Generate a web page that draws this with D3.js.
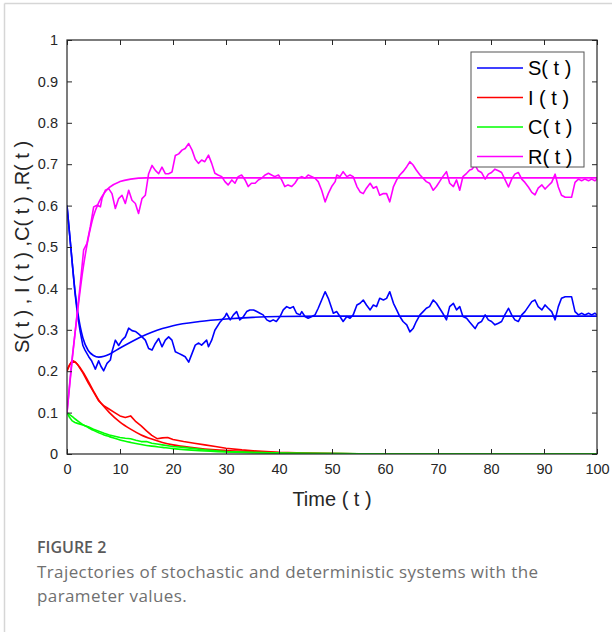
<!DOCTYPE html>
<html>
<head>
<meta charset="utf-8">
<script src="https://cdn.jsdelivr.net/npm/d3@7"></script>
<style>
  body { margin: 0; background: #fff; }
  svg { display: block; }
</style>
</head>
<body>
<svg id="svg" width="612" height="632"></svg>
<script>
// deterministic trajectories, [t, value]
var detS = [[0,0.6],[0.5,0.53],[1,0.46],[1.5,0.395],[2,0.345],[3,0.28],[4,0.25],[5,0.238],[6,0.234],[7,0.236],[8,0.241],[10,0.256],[12,0.27],[14,0.283],[16,0.294],[18,0.303],[20,0.31],[25,0.32],[30,0.326],[35,0.33],[40,0.332],[50,0.333],[60,0.333],[100,0.333]];
var detI = [[0,0.203],[0.5,0.216],[1,0.222],[1.5,0.222],[2,0.216],[3,0.198],[4,0.176],[5,0.152],[6,0.13],[7,0.114],[8,0.1],[10,0.077],[12,0.06],[14,0.046],[16,0.036],[18,0.028],[20,0.022],[24,0.015],[28,0.01],[32,0.007],[36,0.005],[40,0.003],[50,0.001],[60,0],[100,0]];
var detC = [[0,0.1],[1,0.09],[2,0.08],[3,0.071],[4,0.064],[5,0.057],[6,0.051],[7,0.046],[8,0.042],[10,0.034],[12,0.028],[14,0.023],[16,0.019],[18,0.016],[20,0.013],[25,0.008],[30,0.005],[35,0.003],[40,0.002],[50,0.001],[60,0],[100,0]];
var detR = [[0,0.1],[0.5,0.165],[1,0.23],[1.5,0.29],[2,0.345],[3,0.445],[4,0.52],[5,0.575],[6,0.608],[7,0.63],[8,0.644],[10,0.658],[12,0.664],[15,0.667],[20,0.667],[100,0.667]];

// stochastic trajectories, [t, value]
var stoS = [[0,0.6],[0.5,0.53],[1,0.46],[1.5,0.39],[2,0.335],[2.5,0.295],[3,0.262],[3.4,0.251],[4.1,0.235],[4.6,0.226],[5,0.215],[5.35,0.205],[5.97,0.225],[6.4,0.212],[6.92,0.201],[7.55,0.219],[8.18,0.227],[8.49,0.247],[9.12,0.275],[9.75,0.262],[10.38,0.275],[11,0.283],[11.64,0.304],[12.26,0.298],[12.9,0.296],[13.5,0.29],[14.15,0.283],[14.78,0.275],[15.4,0.255],[16.04,0.251],[16.67,0.267],[17.3,0.279],[17.92,0.259],[18.55,0.275],[19.18,0.283],[19.8,0.275],[20.44,0.247],[21.07,0.243],[21.7,0.239],[22.3,0.235],[22.96,0.222],[23.6,0.243],[24.2,0.263],[24.85,0.268],[25.4,0.263],[26.35,0.275],[26.7,0.259],[27.3,0.275],[27.9,0.299],[28.9,0.319],[29.8,0.332],[30.1,0.34],[30.8,0.324],[31.4,0.336],[32,0.344],[32.6,0.324],[33.3,0.332],[33.9,0.344],[34.5,0.348],[35.2,0.348],[35.8,0.344],[36.4,0.34],[37,0.336],[37.7,0.324],[38.3,0.32],[38.9,0.324],[39.5,0.32],[40.2,0.332],[40.8,0.348],[41.45,0.356],[42.07,0.352],[42.7,0.356],[43.3,0.34],[43.96,0.336],[44.3,0.344],[44.9,0.332],[45.5,0.328],[46.2,0.332],[46.8,0.336],[47.4,0.352],[48.05,0.372],[48.7,0.392],[49.3,0.376],[49.94,0.352],[50.25,0.34],[50.9,0.344],[51.5,0.332],[52.1,0.32],[52.8,0.332],[53.4,0.328],[54,0.336],[54.7,0.36],[55.3,0.364],[55.9,0.372],[56.5,0.36],[57.2,0.348],[57.8,0.36],[58.4,0.356],[59,0.376],[59.7,0.372],[60.3,0.376],[60.9,0.392],[61.6,0.364],[62.2,0.348],[62.8,0.332],[63.4,0.32],[64.1,0.312],[64.7,0.295],[65.3,0.303],[65.9,0.32],[66.6,0.336],[67.2,0.344],[67.8,0.352],[68.4,0.356],[69.1,0.372],[69.7,0.364],[70.3,0.352],[70.9,0.34],[71.6,0.324],[72.2,0.356],[72.9,0.364],[73.5,0.348],[74.1,0.356],[74.7,0.332],[75.4,0.328],[76,0.318],[76.4,0.312],[77,0.303],[77.6,0.316],[78.2,0.32],[78.9,0.336],[79.5,0.324],[80.1,0.32],[80.75,0.312],[81.4,0.316],[82,0.32],[82.6,0.336],[83.3,0.352],[83.9,0.336],[84.5,0.324],[85.15,0.32],[85.8,0.336],[86.4,0.344],[87.05,0.356],[87.7,0.368],[88.3,0.372],[88.9,0.356],[89.6,0.348],[90.2,0.36],[90.8,0.352],[91.45,0.344],[92.1,0.324],[92.7,0.356],[93.3,0.376],[94,0.38],[94.6,0.38],[95.2,0.38],[95.85,0.344],[96.5,0.336],[97.1,0.34],[97.7,0.336],[98.4,0.34],[99,0.336],[99.6,0.34],[100,0.336]];
var stoI = [[0,0.2],[0.5,0.215],[1,0.226],[1.5,0.223],[2,0.216],[3,0.196],[4,0.172],[5,0.15],[6,0.128],[7,0.116],[8,0.108],[9,0.1],[10,0.092],[11,0.088],[12,0.092],[13,0.078],[14,0.068],[15,0.056],[16,0.045],[17,0.037],[18,0.039],[19,0.04],[20,0.035],[22,0.03],[24,0.026],[26,0.022],[28,0.018],[30,0.014],[33,0.01],[36,0.007],[40,0.004],[45,0.002],[50,0.001],[60,0],[100,0]];
var stoC = [[0,0.1],[0.5,0.088],[1,0.08],[1.5,0.076],[2,0.074],[3,0.07],[4,0.066],[5,0.06],[6,0.055],[7,0.05],[8,0.046],[9,0.043],[10,0.04],[11,0.038],[12,0.037],[13,0.033],[14,0.03],[15,0.03],[16,0.026],[17,0.024],[18,0.022],[20,0.018],[22,0.016],[24,0.013],[26,0.01],[28,0.008],[30,0.006],[35,0.004],[40,0.002],[50,0.001],[60,0],[100,0]];
var stoR = [[0,0.1],[0.5,0.17],[1,0.235],[1.5,0.29],[2,0.35],[2.5,0.41],[3.14,0.493],[3.77,0.509],[4.4,0.549],[5.03,0.597],[5.66,0.601],[6.3,0.597],[6.6,0.617],[7.23,0.637],[7.86,0.641],[8.49,0.629],[9.12,0.593],[9.75,0.617],[10.38,0.625],[11,0.605],[11.64,0.637],[12.26,0.613],[12.9,0.605],[13.5,0.581],[14.15,0.617],[14.78,0.625],[15.4,0.677],[16.04,0.697],[16.67,0.685],[17.3,0.677],[17.92,0.693],[18.55,0.677],[19.18,0.677],[19.8,0.681],[20.44,0.721],[21.07,0.725],[21.7,0.734],[22.3,0.738],[22.96,0.75],[23.6,0.734],[24.2,0.712],[24.8,0.702],[25.4,0.71],[26,0.706],[26.7,0.722],[27.3,0.702],[27.9,0.678],[28.5,0.674],[29.2,0.67],[29.8,0.658],[30.4,0.65],[31.1,0.662],[31.7,0.654],[32.3,0.67],[32.95,0.674],[33.6,0.662],[34.2,0.646],[34.8,0.654],[35.5,0.654],[36.1,0.662],[36.7,0.666],[37.4,0.674],[38,0.678],[38.6,0.674],[39.2,0.67],[39.9,0.674],[40.5,0.662],[41.1,0.646],[41.7,0.65],[42.4,0.646],[43,0.654],[43.6,0.666],[44.3,0.67],[44.9,0.666],[45.5,0.674],[46.2,0.67],[46.8,0.666],[47.4,0.658],[48.05,0.637],[48.7,0.609],[49.3,0.629],[49.94,0.646],[50.6,0.658],[50.9,0.674],[51.5,0.67],[52.1,0.682],[52.8,0.67],[53.4,0.674],[54,0.67],[54.7,0.646],[55.3,0.633],[55.9,0.629],[56.5,0.642],[57.2,0.654],[57.8,0.642],[58.4,0.646],[59,0.625],[59.7,0.629],[60.3,0.629],[60.9,0.609],[61.6,0.646],[62.2,0.662],[62.8,0.674],[63.4,0.682],[64.1,0.694],[64.7,0.706],[65.3,0.698],[65.9,0.686],[66.6,0.674],[67.2,0.666],[67.8,0.658],[68.4,0.654],[69.1,0.637],[69.7,0.646],[70.3,0.658],[70.9,0.67],[71.6,0.682],[72.2,0.654],[72.9,0.646],[73.5,0.662],[74.1,0.637],[74.7,0.67],[75.4,0.678],[76,0.686],[76.4,0.688],[77,0.697],[77.6,0.684],[78.2,0.68],[78.9,0.664],[79.5,0.676],[80.1,0.68],[80.75,0.688],[81.4,0.684],[82,0.68],[82.6,0.664],[83.3,0.645],[83.9,0.664],[84.5,0.676],[85.15,0.68],[85.8,0.664],[86.4,0.656],[87.05,0.645],[87.7,0.632],[88.3,0.626],[88.9,0.642],[89.6,0.65],[90.2,0.64],[90.8,0.648],[91.45,0.656],[92.1,0.676],[92.7,0.645],[93.3,0.625],[94,0.62],[94.6,0.62],[95.2,0.62],[95.85,0.656],[96.5,0.664],[97.1,0.66],[97.7,0.664],[98.4,0.66],[99,0.664],[99.6,0.66],[100,0.664]];

var xTicks = [0,10,20,30,40,50,60,70,80,90,100];
var yTicks = [0,0.1,0.2,0.3,0.4,0.5,0.6,0.7,0.8,0.9,1];
var legendLabels = ["S( t )", "I ( t )", "C( t )", "R( t )"];
var seriesColors = ["#0000ff", "#ff0000", "#00ff00", "#ff00ff"];

var pLeft = 67, pRight = 597, pTop = 40, pBottom = 454;
var axisColor = "#262626";
var font = "'Liberation Sans', Arial, sans-serif";
var capFont = "'Open Sans', sans-serif";

const svg = d3.select('#svg');

// panel border (left and top edges visible)
svg.append("line").attr("x1", 4.5).attr("y1", 3.5).attr("x2", 4.5).attr("y2", 632)
  .style("stroke", "#d6d6d6").style("stroke-width", 1.5);
svg.append("line").attr("x1", 4.5).attr("y1", 3.5).attr("x2", 612).attr("y2", 3.5)
  .style("stroke", "#d6d6d6").style("stroke-width", 1.5);

var x = d3.scaleLinear().domain([0, 100]).range([pLeft, pRight]);
var y = d3.scaleLinear().domain([0, 1]).range([pBottom, pTop]);

svg.append("clipPath").attr("id", "clip")
  .append("rect").attr("x", pLeft).attr("y", pTop).attr("width", pRight - pLeft).attr("height", pBottom - pTop);

var line = d3.line().x(d => x(d[0])).y(d => y(d[1]));
var smooth = d3.line().x(d => x(d[0])).y(d => y(d[1])).curve(d3.curveMonotoneX);

var plot = svg.append("g").attr("clip-path", "url(#clip)");
var stoch = [stoS, stoI, stoC, stoR];
var det = [detS, detI, detC, detR];
for (var i = 0; i < 4; i++) {
  plot.append("path").attr("d", line(stoch[i]))
    .style("fill", "none").style("stroke", seriesColors[i]).style("stroke-width", 1.6)
    .style("stroke-linejoin", "round");
  plot.append("path").attr("d", smooth(det[i]))
    .style("fill", "none").style("stroke", seriesColors[i]).style("stroke-width", 1.6);
}

// axes, ticks inward on all four sides
var gx = svg.append("g").attr("transform", "translate(0," + pBottom + ")")
  .call(d3.axisBottom(x).tickValues(xTicks).tickSizeInner(-5).tickSizeOuter(0).tickPadding(10).tickFormat(d3.format("d")));
var gxt = svg.append("g").attr("transform", "translate(0," + pTop + ")")
  .call(d3.axisTop(x).tickValues(xTicks).tickSizeInner(-5).tickSizeOuter(0).tickFormat(""));
var gy = svg.append("g").attr("transform", "translate(" + pLeft + ",0)")
  .call(d3.axisLeft(y).tickValues(yTicks).tickSizeInner(-5).tickSizeOuter(0).tickPadding(9).tickFormat(d => d === 0 || d === 1 ? d3.format("d")(d) : d3.format(".1f")(d)));
var gyr = svg.append("g").attr("transform", "translate(" + pRight + ",0)")
  .call(d3.axisRight(y).tickValues(yTicks).tickSizeInner(-5).tickSizeOuter(0).tickFormat(""));

[gx, gxt, gy, gyr].forEach(function(g) {
  g.select(".domain").remove();
  g.selectAll("line").style("stroke", axisColor).style("stroke-width", 1);
  g.selectAll("text").style("font-family", font).style("font-size", "14.5px").style("fill", axisColor);
});

svg.append("rect").attr("x", pLeft).attr("y", pTop).attr("width", pRight - pLeft).attr("height", pBottom - pTop)
  .style("fill", "none").style("stroke", axisColor).style("stroke-width", 1.2);

// axis labels
svg.append("text").attr("x", (pLeft + pRight) / 2).attr("y", 506)
  .attr("text-anchor", "middle").text("Time ( t )")
  .style("font-family", font).style("font-size", "20px").style("fill", axisColor);
svg.append("text").attr("transform", "translate(29," + ((pTop + pBottom) / 2) + ") rotate(-90)")
  .attr("text-anchor", "middle").text("S( t ) , I ( t ) ,C( t ) ,R( t )")
  .style("font-family", font).style("font-size", "20px").style("fill", axisColor);

// legend
var lg = svg.append("g").attr("transform", "translate(471,52)");
lg.append("rect").attr("width", 113).attr("height", 115)
  .style("fill", "#fff").style("stroke", "#555").style("stroke-width", 1);
legendLabels.forEach(function(lab, i) {
  var ly = 16 + i * 29.5;
  lg.append("line").attr("x1", 6).attr("x2", 52).attr("y1", ly).attr("y2", ly)
    .style("stroke", seriesColors[i]).style("stroke-width", 1.6);
  lg.append("text").attr("x", 57).attr("y", ly + 7).text(lab)
    .style("font-family", font).style("font-size", "20px").style("fill", "#000");
});

// caption
svg.append("text").attr("x", 37).attr("y", 553).text("FIGURE 2")
  .style("font-family", capFont).style("font-size", "16px").style("font-weight", 600).style("fill", "#5a5a5a");
svg.append("text").attr("x", 37).attr("y", 578).text("Trajectories of stochastic and deterministic systems with the")
  .style("font-family", capFont).style("font-size", "17px").style("letter-spacing", "0.4px").style("fill", "#707070");
svg.append("text").attr("x", 37).attr("y", 602).text("parameter values.")
  .style("font-family", capFont).style("font-size", "17px").style("letter-spacing", "0.4px").style("fill", "#707070");
</script>
</body>
</html>
